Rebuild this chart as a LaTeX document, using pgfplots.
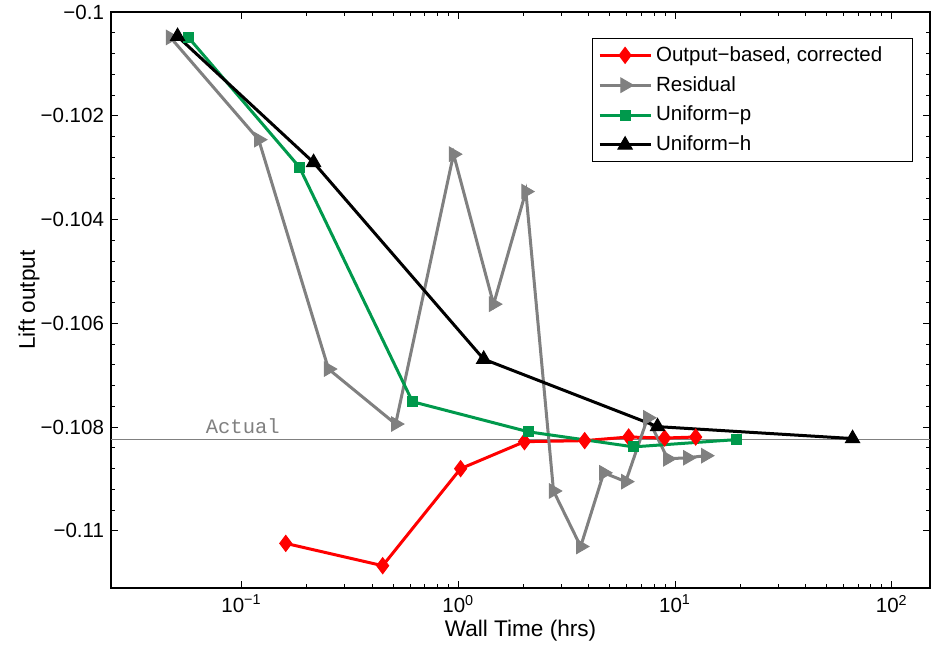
\documentclass[border=0pt]{standalone}
\usepackage{fontspec}
\setmainfont{Liberation Sans}
\setmonofont{Liberation Mono}
\usepackage{pgfplots}
\pgfplotsset{compat=1.18}
\definecolor{mgreen}{rgb}{0,0.6,0.3}
\definecolor{mgray}{rgb}{0.5,0.5,0.5}

\begin{document}
\begin{tikzpicture}
\begin{axis}[
  scale only axis, width=409.5pt, height=288pt,
  xmode=log, xmin=0.025, xmax=150,
  ymin=-0.1111, ymax=-0.1,
  xtick={0.1,1,10,100},
  xticklabels={10\textsuperscript{−1},10\textsuperscript{0},10\textsuperscript{1},10\textsuperscript{2}},
  ytick={-0.11,-0.108,-0.106,-0.104,-0.102,-0.1},
  yticklabels={−0.11,−0.108,−0.106,−0.104,−0.102,−0.1},
  minor y tick num=4,
  tick align=inside,
  major tick length=3.5pt, minor tick length=2pt,
  axis line style={line width=0.6pt},
  every tick/.style={black, line width=0.5pt},
  tick label style={font=\fontsize{10.25}{12}\selectfont},
  xlabel={Wall Time (hrs)}, ylabel={Lift output},
  every axis x label/.style={at={(axis description cs:0.5,0)}, anchor=center, yshift=-21.5pt, font=\fontsize{11.3}{13}\selectfont},
  every axis y label/.style={at={(axis description cs:-0.1,0.5)}, anchor=center, rotate=90, font=\fontsize{11.3}{13}\selectfont},
  legend style={at={(0.979,0.955)}, anchor=north east, draw=black, line width=0.5pt,
    font=\fontsize{10.25}{12}\selectfont, row sep=2pt, inner xsep=3pt, inner ysep=2pt, cells={anchor=west}},
  legend image code/.code={\draw[mark repeat=2, mark phase=2] plot coordinates {(0pt,0pt) (12.75pt,0pt) (25.5pt,0pt)};},
]
\addplot[mgray, line width=0.8pt, forget plot] coordinates {(0.025,-0.10824) (150,-0.10824)};
\node[anchor=base west, font=\ttfamily\fontsize{10.25}{12}\selectfont, text=mgray, inner sep=0pt, yshift=3pt] at (axis cs:0.0682,-0.10824) {Actual};

\addplot[red, line width=1.5pt, mark=diamond*, mark size=4pt, mark options={solid, fill=red, line width=0.5pt}] coordinates {
(0.160,-0.11024) (0.448,-0.11067) (1.025,-0.10880) (2.02,-0.10828) (3.83,-0.10826) (6.11,-0.10819) (8.95,-0.10821) (12.45,-0.10819)};
\addlegendentry{Output−based, corrected\hbox to 10pt{}}

\addplot[mgray, line width=1.5pt, mark=triangle*, mark size=4.1pt, mark options={solid, fill=mgray, line width=0.5pt, rotate=-90}] coordinates {
(0.047,-0.10049) (0.120,-0.10246) (0.252,-0.10688) (0.514,-0.10794) (0.951,-0.10274) (1.455,-0.10563) (2.05,-0.10346) (2.75,-0.10923) (3.67,-0.11030) (4.69,-0.10888) (5.92,-0.10905) (7.48,-0.10782) (9.25,-0.10861) (11.43,-0.10859) (13.84,-0.10855)};
\addlegendentry{Residual}

\addplot[mgreen, line width=1.5pt, mark=square*, mark size=2.5pt, mark options={solid, fill=mgreen, line width=0.5pt}] coordinates {
(0.0569,-0.10049) (0.185,-0.10299) (0.615,-0.10751) (2.11,-0.10809) (6.44,-0.10838) (19.2,-0.10824)};
\addlegendentry{Uniform−p}

\addplot[black, line width=1.5pt, mark=triangle*, mark size=4.1pt, mark options={solid, fill=black, line width=0.5pt}] coordinates {
(0.0507,-0.10047) (0.215,-0.10290) (1.31,-0.10669) (8.30,-0.10799) (65.9,-0.10822)};
\addlegendentry{Uniform−h}
\end{axis}
\pgfresetboundingbox
\path[use as bounding box] ([xshift=-55.5pt,yshift=-31.5pt]current axis.south west) rectangle ([xshift=1pt,yshift=6pt]current axis.north east);
\end{tikzpicture}
\end{document}
